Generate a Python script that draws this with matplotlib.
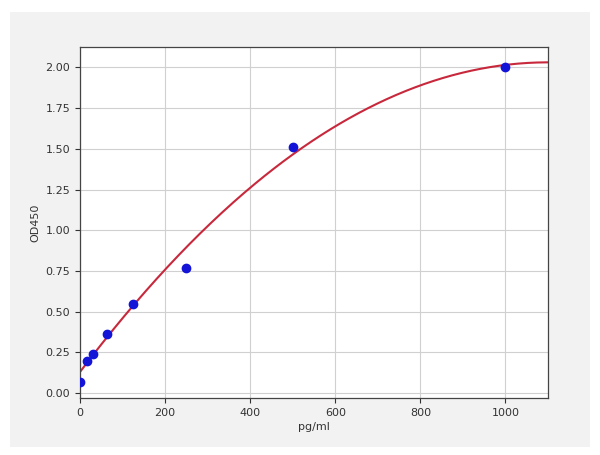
import matplotlib
matplotlib.use("Agg")
import matplotlib.pyplot as plt
import numpy as np
from matplotlib.patches import Rectangle

# Standard points
conc = [0, 15.6, 31.25, 62.5, 125, 250, 500, 1000]
od = [0.07, 0.20, 0.24, 0.36, 0.545, 0.77, 1.51, 2.00]

# Fitted curve coefficients (quadratic, highest power first)
curve_coef = [-1.570e-6, 0.003455, 0.13]

xticks = [0, 200, 400, 600, 800, 1000]
yticks = [0.00, 0.25, 0.50, 0.75, 1.00, 1.25, 1.50, 1.75, 2.00]

fig = plt.figure(figsize=(6.0, 4.55), dpi=100, facecolor="white")
fig.patches.append(Rectangle((10/600, 8/455), 580/600, 435/455, transform=fig.transFigure,
                             facecolor="#f2f2f2", edgecolor="none", zorder=-10))
ax = fig.add_axes([80/600, 1 - 398/455, 468/600, 351/455])

xs = np.linspace(0, 1100, 300)
ax.plot(xs, np.polyval(curve_coef, xs), color="#c8283c", lw=1.5, zorder=2)
ax.plot(conc, od, "o", color="#1414d8", markersize=6, zorder=3)

ax.set_xlim(0, 1100)
ax.set_ylim(-0.03, 2.125)
ax.set_xticks(xticks)
ax.set_yticks(yticks)
ax.set_xticklabels([str(t) for t in xticks])
ax.set_yticklabels([f"{t:.2f}" for t in yticks])
ax.tick_params(labelsize=8, colors="#333333", length=3.5)
ax.grid(True, color="#d0d0d0", lw=0.8)
ax.set_axisbelow(True)
ax.set_xlabel("pg/ml", fontsize=8, color="#333333", labelpad=3)
ax.set_ylabel("OD450", fontsize=8, color="#333333", labelpad=4)
for s in ax.spines.values():
    s.set_color("#444444")
    s.set_linewidth(0.9)

fig.savefig("out.png", dpi=100, facecolor=fig.get_facecolor())
